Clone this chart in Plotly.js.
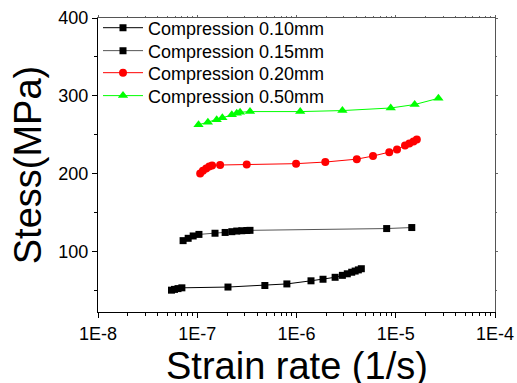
<!DOCTYPE html>
<html>
<head>
<meta charset="utf-8">
<script src="https://cdn.plot.ly/plotly-3.0.1.min.js"></script>
<style>html,body{margin:0;padding:0;background:#fff;}#chart{width:517px;height:383px;}</style>
</head>
<body>
<div id="chart"></div>
<script>
// Series data (strain rate in 1/s, stress in MPa)
var names = ["Compression 0.10mm", "Compression 0.15mm", "Compression 0.20mm", "Compression 0.50mm"];

var rate010 = [5.5e-8, 5.9e-8, 6.4e-8, 7.0e-8, 2.04e-7, 4.8e-7, 8.0e-7, 1.40e-6, 1.85e-6, 2.45e-6, 2.9e-6, 3.25e-6, 3.6e-6, 3.9e-6, 4.2e-6, 4.5e-6];
var stress010 = [51, 52, 53, 54, 55, 57, 59, 63, 65, 67.5, 70, 72, 74, 75.5, 77, 78.5];

var rate015 = [7.2e-8, 8.1e-8, 9.1e-8, 1.04e-7, 1.51e-7, 1.91e-7, 2.23e-7, 2.5e-7, 2.81e-7, 3.16e-7, 3.4e-7, 8.1e-6, 1.45e-5];
var stress015 = [114.5, 117.5, 120.5, 122.5, 124, 125, 126, 126.8, 127.2, 127.5, 127.7, 130, 131.3];

var rate020 = [1.07e-7, 1.14e-7, 1.23e-7, 1.32e-7, 1.41e-7, 1.70e-7, 3.15e-7, 9.9e-7, 1.95e-6, 4.05e-6, 5.9e-6, 8.6e-6, 1.03e-5, 1.24e-5, 1.37e-5, 1.51e-5, 1.63e-5];
var stress020 = [200.5, 204, 207, 209.5, 211, 211.5, 212, 213.2, 215.3, 219, 223, 228, 231.5, 236.5, 239, 241.7, 244.3];

var rate050 = [1.03e-7, 1.28e-7, 1.57e-7, 1.79e-7, 2.23e-7, 2.5e-7, 2.7e-7, 3.4e-7, 1.09e-6, 2.9e-6, 8.9e-6, 1.55e-5, 2.69e-5];
var stress050 = [263, 266.3, 269.4, 272, 275.8, 277.8, 279.1, 280, 280, 281.3, 284.6, 289, 297];

var xTitle = 'Strain rate (1/s)';
var yTitle = 'Stess(MPa)';
var xTickVals = [1e-8, 1e-7, 1e-6, 1e-5, 1e-4];
var xTickText = ["1E-8", "1E-7", "1E-6", "1E-5", "1E-4"];
var yTickVals = [100, 200, 300, 400];

var minorX = [];
for (var d = -8; d < -4; d++) { for (var k = 2; k <= 9; k++) { minorX.push(k * Math.pow(10, d)); } }

function series(x, y, name, lineColor, markerColor, symbol, size, legendId) {
  return {
    x: x, y: y, name: name, type: 'scatter', mode: 'lines+markers',
    line: {color: lineColor, width: 1},
    marker: {color: markerColor, symbol: symbol, size: size},
    legend: legendId
  };
}

var traces = [
  series(rate010, stress010, names[0], '#000000', '#000000', 'square', 7, 'legend'),
  series(rate015, stress015, names[1], '#555555', '#000000', 'square', 7, 'legend2'),
  series(rate020, stress020, names[2], '#ff0000', '#ff0000', 'circle', 8, 'legend3'),
  series(rate050, stress050, names[3], '#00ff00', '#00ff00', 'triangle-up', 9, 'legend4'),
  {x: [1e-6], y: [200], xaxis: 'x2', yaxis: 'y2', mode: 'markers', marker: {opacity: 0}, showlegend: false, hoverinfo: 'skip'}
];

var fontFam = 'Arial, "Liberation Sans", sans-serif';
var xr = [-8, -4], yr = [23, 400];

function leg(yy) {
  return {
    x: 0.0, xanchor: 'left', y: yy, yanchor: 'middle',
    bgcolor: 'rgba(0,0,0,0)', borderwidth: 0,
    font: {size: 18, family: fontFam}, itemwidth: 40
  };
}

var layout = {
  width: 517, height: 383,
  margin: {l: 98, r: 22, t: 18, b: 71, autoexpand: false},
  paper_bgcolor: '#fff', plot_bgcolor: '#fff',
  showlegend: true,
  font: {family: fontFam, color: '#000'},
  xaxis: {
    type: 'log', range: xr, tickvals: xTickVals, ticktext: xTickText,
    ticks: 'outside', ticklen: 5, tickwidth: 1, tickcolor: '#000',
    showline: true, linecolor: '#000', linewidth: 1.2, showgrid: false, zeroline: false,
    tickfont: {size: 18, family: fontFam},
    minor: {tickvals: minorX, ticks: 'outside', ticklen: 3, tickcolor: '#000', showgrid: false}
  },
  yaxis: {
    range: yr, tickvals: yTickVals,
    ticks: 'outside', ticklen: 5, tickwidth: 1, tickcolor: '#000',
    showline: true, linecolor: '#000', linewidth: 1.2, showgrid: false, zeroline: false,
    tickfont: {size: 18, family: fontFam}, automargin: true,
    minor: {dtick: 50, ticks: 'outside', ticklen: 3, tickcolor: '#000', showgrid: false},
    title: {text: yTitle, font: {size: 38, family: fontFam}, standoff: 4}
  },
  xaxis2: {
    type: 'log', range: xr, overlaying: 'x', side: 'top', anchor: 'y2',
    tickvals: xTickVals, showticklabels: false,
    ticks: 'outside', ticklen: 2, tickcolor: '#666',
    minor: {tickvals: minorX, ticks: 'outside', ticklen: 1, tickcolor: '#666'},
    showline: true, linecolor: '#555', linewidth: 1.2, showgrid: false, zeroline: false
  },
  yaxis2: {
    range: yr, overlaying: 'y', side: 'right', anchor: 'x2',
    tickvals: yTickVals, showticklabels: false,
    ticks: 'outside', ticklen: 2, tickcolor: '#666',
    minor: {dtick: 50, ticks: 'outside', ticklen: 1, tickcolor: '#666'},
    showline: true, linecolor: '#555', linewidth: 1.2, showgrid: false, zeroline: false
  },
  annotations: [{
    text: xTitle, xref: 'paper', yref: 'paper', x: 0.5, y: -0.184,
    xanchor: 'center', yanchor: 'middle', showarrow: false,
    font: {size: 38, family: fontFam, color: '#000'}
  }],
  legend: leg(0.966),
  legend2: leg(0.888),
  legend3: leg(0.813),
  legend4: leg(0.735)
};

Plotly.newPlot('chart', traces, layout, {displayModeBar: false, staticPlot: true});
</script>
</body>
</html>
